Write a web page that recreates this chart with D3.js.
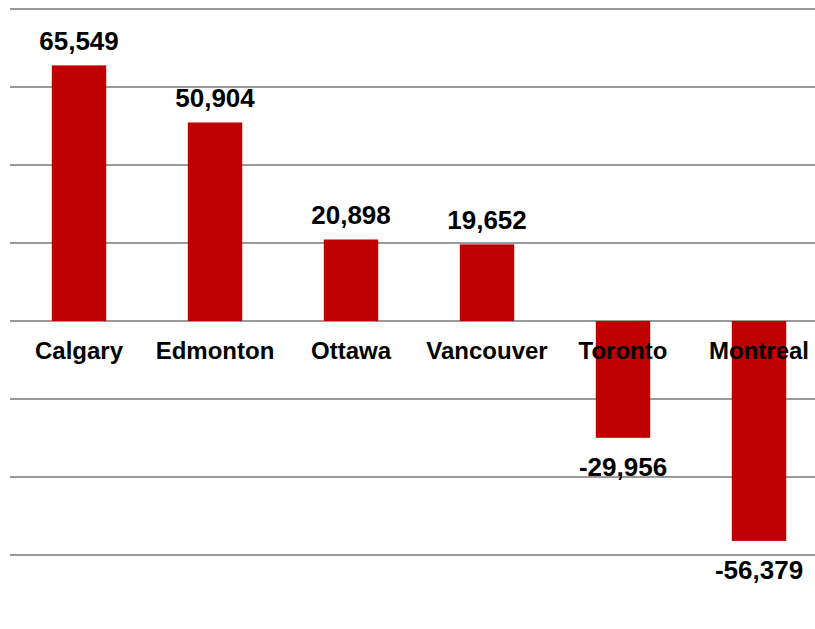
<!DOCTYPE html>
<html>
<head>
<meta charset="utf-8">
<script src="https://cdn.jsdelivr.net/npm/d3@7"></script>
<style>
  body { margin: 0; background: #fff; }
  svg { display: block; }
</style>
</head>
<body>
<div id="chart"></div>
<script>
const cities = ['Calgary', 'Edmonton', 'Ottawa', 'Vancouver', 'Toronto', 'Montreal'];
const netChange = [65549, 50904, 20898, 19652, -29956, -56379];
const gridTicks = [-60000, -40000, -20000, 0, 20000, 40000, 60000, 80000];

const width = 815, height = 629;

const svg = d3.select('#chart')
  .append('svg')
  .attr('width', width)
  .attr('height', height);

const x = d3.scaleBand()
  .domain(cities)
  .range([11, 827])
  .paddingInner(0.6)
  .paddingOuter(0.3);

const y = d3.scaleLinear()
  .domain([-60000, 80000])
  .range([555, 9]);

const fmt = v => d3.format(',')(v).replace('\u2212', '-');

// gridlines
svg.append('g')
  .selectAll('line')
  .data(gridTicks)
  .enter()
  .append('line')
  .attr('x1', 10)
  .attr('x2', width)
  .attr('y1', d => y(d))
  .attr('y2', d => y(d))
  .attr('stroke', '#999')
  .attr('stroke-width', 2);

const rows = cities.map((c, i) => ({ city: c, value: netChange[i] }));

svg.append('g')
  .selectAll('rect')
  .data(rows)
  .enter()
  .append('rect')
  .attr('x', d => x(d.city))
  .attr('width', x.bandwidth())
  .attr('y', d => y(Math.max(0, d.value)))
  .attr('height', d => Math.abs(y(d.value) - y(0)))
  .attr('fill', '#bf0000');

// value labels
svg.append('g')
  .attr('font-family', 'Liberation Sans, Arial, sans-serif')
  .attr('font-weight', 'bold')
  .attr('font-size', 26)
  .attr('text-anchor', 'middle')
  .selectAll('text')
  .data(rows)
  .enter()
  .append('text')
  .attr('x', d => x(d.city) + x.bandwidth() / 2)
  .attr('y', d => d.value >= 0 ? y(d.value) - 15 : y(d.value) + 38)
  .text(d => fmt(d.value));

// category labels
svg.append('g')
  .attr('font-family', 'Liberation Sans, Arial, sans-serif')
  .attr('font-weight', 'bold')
  .attr('font-size', 24)
  .attr('text-anchor', 'middle')
  .selectAll('text')
  .data(cities)
  .enter()
  .append('text')
  .attr('x', d => x(d) + x.bandwidth() / 2)
  .attr('y', y(0) + 38)
  .text(d => d);
</script>
</body>
</html>
